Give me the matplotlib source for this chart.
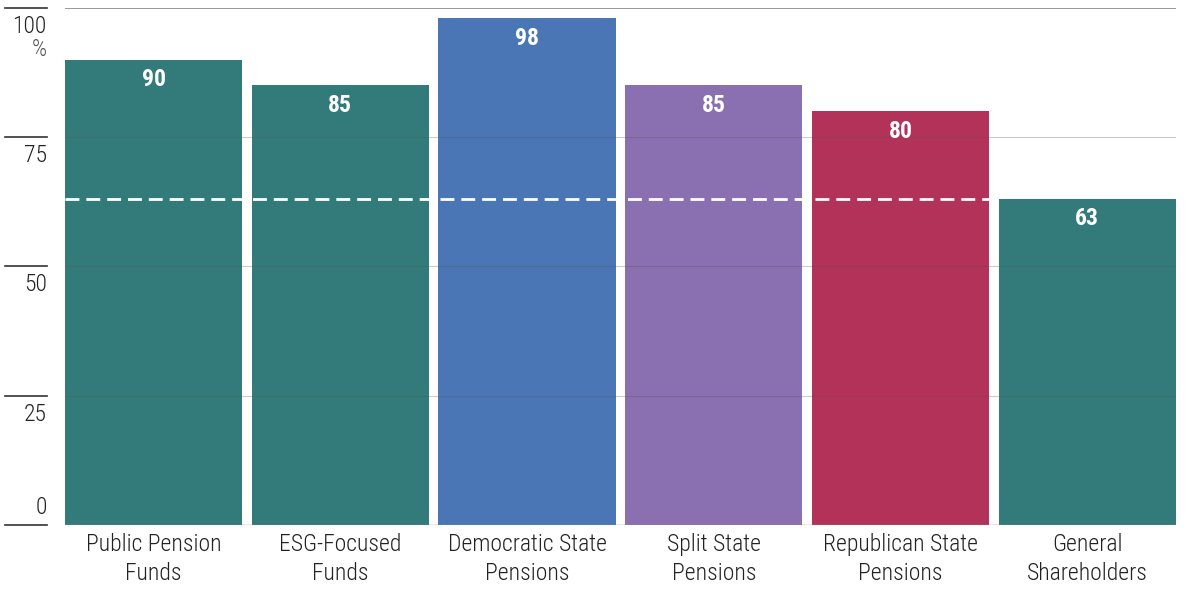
import matplotlib
matplotlib.use("Agg")
import matplotlib.pyplot as plt
from matplotlib.lines import Line2D

# data
categories = ["Public Pension\nFunds", "ESG-Focused\nFunds", "Democratic State\nPensions",
              "Split State\nPensions", "Republican State\nPensions", "General\nShareholders"]
values = [90, 85, 98, 85, 80, 63]
colors = ["#337b7a", "#337b7a", "#4a76b5", "#8a70b0", "#b3325a", "#337b7a"]
yticks = [0, 25, 50, 75, 100]
avg_line = 63

FONT = ["Roboto Condensed", "DejaVu Sans"]

fig = plt.figure(figsize=(12, 6.04), dpi=100)
ax = fig.add_axes([0.054, 0.131, 0.926, 0.856])

x = list(range(len(values)))
ax.bar(x, values, width=0.95, color=colors, zorder=2)

ax.set_xlim(-0.475, len(values) - 0.525)
ax.set_ylim(0, 100)

# grid lines drawn over the bars
for t in yticks[1:-1]:
    ax.axhline(t, color="#555555", lw=0.8, alpha=0.3, zorder=3)
ax.axhline(100, color="#888888", lw=1.2, zorder=3)
ax.axhline(0, color="#888888", lw=1.0, zorder=3)

# white dashed reference line across the first five bars
ax.hlines(avg_line, -0.475, len(values) - 1.475, colors="white", lw=2.0,
          linestyles=(0, (5, 2.5)), zorder=4)

# value labels inside bars
for xi, v in zip(x, values):
    ax.annotate(str(v), (xi, v), xytext=(0, -6), textcoords="offset points",
                ha="center", va="top", color="white", fontsize=17,
                fontweight="bold", family=FONT, zorder=5)

# left ticks; labels sit below the line, except 0 which sits above
tr = ax.get_yaxis_transform()
for t in yticks:
    ax.add_line(Line2D([-0.054, -0.0162], [t, t], transform=tr, color="#333333",
                       lw=1.2, clip_on=False))
    if t == 0:
        off, va = (0, 4), "bottom"
    else:
        off, va = (0, -5), "top"
    ax.annotate(str(t), (-0.0162, t), xycoords=tr, xytext=off,
                textcoords="offset points", ha="right", va=va,
                fontsize=17, family=FONT, fontweight="light", color="#222222")
ax.annotate("%", (-0.0162, 100), xycoords=tr, xytext=(0, -22),
            textcoords="offset points", ha="right", va="top",
            fontsize=17, family=FONT, fontweight="light", color="#555555")

ax.set_yticks([])
ax.set_xticks(x)
ax.set_xticklabels(categories, fontsize=17, family=FONT, fontweight="light",
                   color="#222222", linespacing=1.3)
ax.tick_params(axis="x", length=0, pad=6)
for s in ax.spines.values():
    s.set_visible(False)

fig.savefig("out.png", dpi=100)
